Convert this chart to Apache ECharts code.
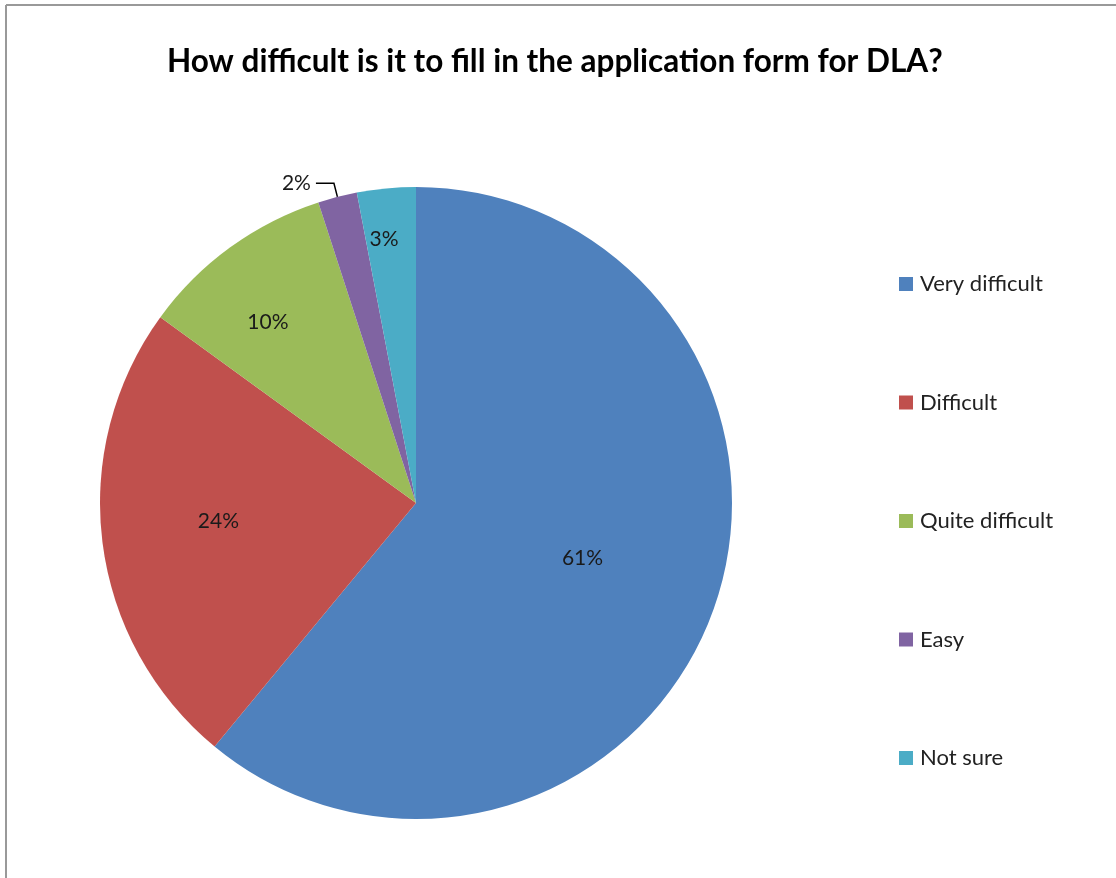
<!DOCTYPE html>
<html>
<head>
<meta charset="utf-8">
<title>DLA application form difficulty</title>
<script src="https://cdn.jsdelivr.net/npm/echarts@6/dist/echarts.min.js"></script>
<style>
  html, body { margin: 0; padding: 0; background: #fff; }
  #chart { width: 1116px; height: 878px; }
</style>
</head>
<body>
<div id="chart"></div>
<script>
// Survey answers and their shares (percent)
const categories = ['Very difficult', 'Difficult', 'Quite difficult', 'Easy', 'Not sure'];
const shares = [61, 24, 10, 2, 3];
const colors = ['#4F81BD', '#C0504D', '#9BBB59', '#8064A2', '#4BACC6'];
// Placement of the inside labels: distance from the centre as a fraction of
// the radius, and a small angular nudge (degrees) from the slice's mid-angle
const labelRadiusFactor = [0.555, 0.628, 0.74, null, 0.84];
const labelAngleNudge = [-1.5, 1.9, -3.3, 0, -1.5];

const FONT = 'Lato, "Open Sans", sans-serif';
const center = [416, 503];
const radius = 316;

const chart = echarts.init(document.getElementById('chart'));

const total = shares.reduce((a, b) => a + b, 0);
const midAngles = [];
let acc = 0;
shares.forEach(v => {
  midAngles.push((acc + v / 2) / total * 2 * Math.PI);
  acc += v;
});

chart.setOption({
  animation: false,
  title: {
    text: 'How difficult is it to fill in the application form for DLA?',
    left: 162,
    top: 41,
    textStyle: { fontFamily: FONT, fontWeight: 'bold', fontSize: 31.5, color: '#000' }
  },
  legend: {
    orient: 'vertical',
    left: 899,
    top: 273,
    padding: 0,
    itemWidth: 14,
    itemHeight: 14,
    itemGap: 96.5,
    icon: 'rect',
    textStyle: { fontFamily: FONT, fontSize: 22, color: '#222', lineHeight: 22, padding: [0, 0, 0, 2] },
    data: categories
  },
  graphic: [
    { type: 'line', shape: { x1: 6, y1: 5, x2: 6, y2: 878 }, style: { stroke: '#999', lineWidth: 2 } },
    { type: 'line', shape: { x1: 6, y1: 5, x2: 1116, y2: 5 }, style: { stroke: '#999', lineWidth: 2 } }
  ],
  series: [{
    type: 'pie',
    center: center,
    radius: radius,
    startAngle: 90,
    clockwise: true,
    color: colors,
    label: {
      position: 'inside',
      formatter: '{c}%',
      fontFamily: FONT,
      fontSize: 21,
      color: '#1a1a1a'
    },
    labelLine: { show: false },
    labelLayout: function (p) {
      const f = labelRadiusFactor[p.dataIndex];
      if (f == null) return {};
      const a = midAngles[p.dataIndex] + labelAngleNudge[p.dataIndex] * Math.PI / 180;
      return {
        x: center[0] + f * radius * Math.sin(a),
        y: center[1] - f * radius * Math.cos(a)
      };
    },
    data: categories.map((name, i) => {
      const item = { name: name, value: shares[i] };
      if (name === 'Easy') {
        item.label = { position: 'outside', color: '#1a1a1a' };
        item.labelLine = { show: true, length: 14, length2: 18, lineStyle: { color: '#000', width: 1.5 } };
      }
      return item;
    })
  }]
});
</script>
</body>
</html>
